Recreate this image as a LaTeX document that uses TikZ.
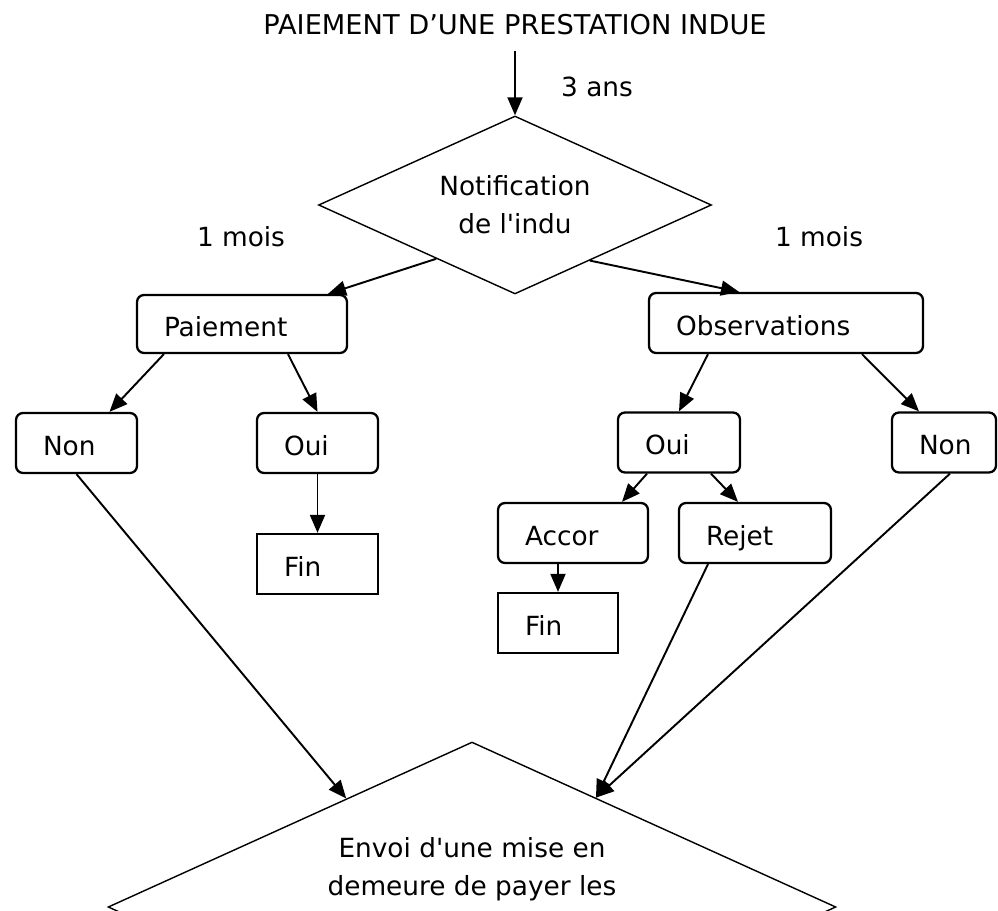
\documentclass[tikz,border=0pt]{standalone}
\usepackage{fontspec}
\setmainfont{DejaVu Sans}
\usetikzlibrary{arrows.meta,shapes.geometric,calc}

\begin{document}
\begin{tikzpicture}[x=0.02cm,y=-0.02cm,
    every node/.style={font=\fontsize{15}{21.5}\selectfont},
    box/.style={draw,line width=1.3pt,rounded corners=4pt,inner xsep=0.54cm,inner ysep=0pt,
      minimum height=1.2cm,text width=#1,align=left,text height=0.5cm,text depth=0pt},
    finbox/.style={box=#1,sharp corners},
    losange/.style={draw,diamond,line width=0.8pt,aspect=2.2,inner sep=0pt},
    arr/.style={line width=1.1pt,-{Triangle[length=0.36cm,width=0.3cm]}}]
  \useasboundingbox (0,0) rectangle (998,911);
  \clip (0,0) rectangle (998,911);
  % titre et notification
  \node[font=\fontsize{15.5}{18}\selectfont] (titre) at (515,25) {PAIEMENT D’UNE PRESTATION INDUE};
  \node[losange,minimum width=7.86cm,minimum height=3.56cm,align=center] (notif) at (515,205) {Notification\\de l\textquotesingle indu};
  \node (ans) at (597,87) {3 ans};
  \node (moisA) at (241,237) {1 mois};
  \node (moisB) at (819,237) {1 mois};
  % branche paiement
  \node[box=3.12cm,minimum height=1.16cm] (paiement) at (242,324) {Paiement};
  \node[box=1.34cm] (nonA) at (76.5,443) {Non};
  \node[box=1.34cm] (ouiA) at (317.5,443) {Oui};
  \node[finbox=1.34cm] (finA) at (317.5,564) {Fin};
  % branche observations
  \node[box=4.4cm] (obs) at (786,323) {Observations};
  \node[box=1.36cm] (ouiB) at (679,442.5) {Oui};
  \node[box=1.0cm] (nonB) at (944,442.5) {Non};
  \node[box=1.92cm] (accor) at (573,533) {Accor};
  \node[box=1.96cm] (rejet) at (755,533) {Rejet};
  \node[finbox=1.32cm] (finB) at (558,623) {Fin};
  % mise en demeure
  \node[losange,minimum width=14.56cm,minimum height=6.6cm] (envoi) at (472,907) {};
  \node[align=center] (envoitxt) at (472,869) {Envoi d\textquotesingle une mise en\\demeure de payer les};
  % fleches
  \draw[arr] ([yshift=-0.2cm]titre.south) -- (notif.north);
  \draw[arr] ($(notif.south)!0.4!(notif.west)$) -- ($(paiement.north)+(86,0)$);
  \draw[arr] ($(notif.south)!0.38!(notif.east)$) -- ($(obs.north)+(-47,0)$);
  \draw[arr] ($(paiement.south west)+(28,0)$) -- ($(nonA.north)+(33,0)$);
  \draw[arr] ($(paiement.south)+(46,0)$) -- (ouiA.north);
  \draw[arr] (ouiA) -- (finA);
  \draw[arr] ($(obs.south)+(-78,0)$) -- (ouiB.north);
  \draw[arr] ($(obs.south)+(76,0)$) -- ($(nonB.north)+(-25,0)$);
  \draw[arr] ($(ouiB.south)+(-32,0)$) -- ($(accor.north)+(49,0)$);
  \draw[arr] ($(ouiB.south)+(32,0)$) -- ($(rejet.north)+(-17,0)$);
  \draw[arr] (accor.south -| finB.north) -- (finB.north);
  \draw[arr] (nonA.south) -- ($(envoi.north)!0.345!(envoi.west)$);
  \draw[arr] ($(rejet.south)+(-47,0)$) -- ($(envoi.north)!0.34!(envoi.east)$);
  \draw[arr] ($(nonB.south)+(6,0)$) -- ($(envoi.north)!0.34!(envoi.east)$);
\end{tikzpicture}
\end{document}
